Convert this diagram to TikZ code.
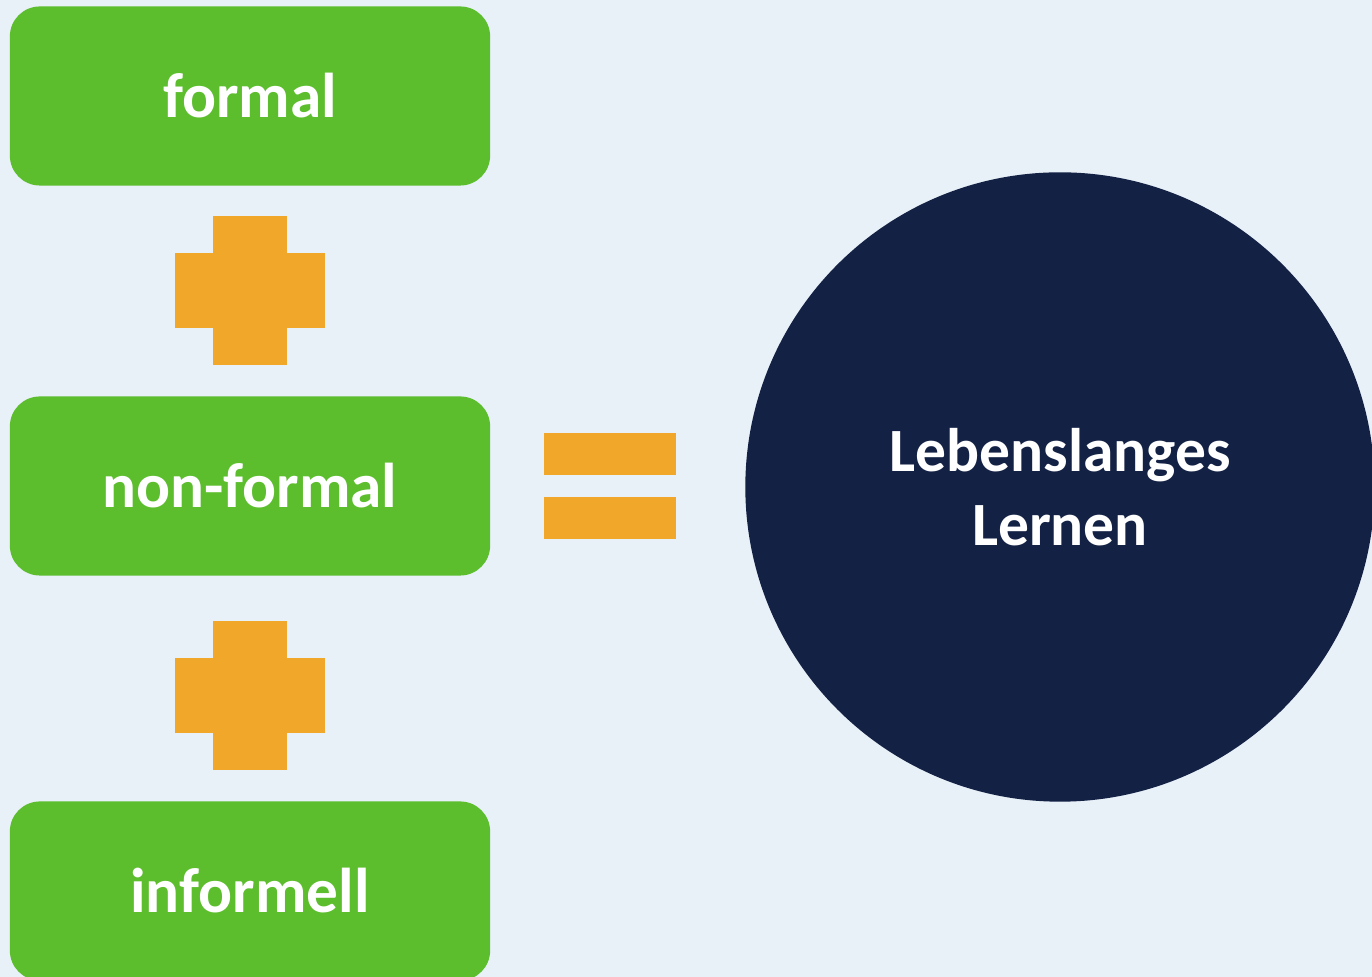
\documentclass[tikz,border=0pt]{standalone}
\usepackage{fontspec}
\setmainfont{Carlito}
\usepackage{tikz}

\definecolor{hintergrund}{HTML}{E8F0F8}
\definecolor{lerngruen}{HTML}{5CBD2D}
\definecolor{plusorange}{HTML}{F0A72A}
\definecolor{kreisblau}{HTML}{132144}

\begin{document}
\begin{tikzpicture}[x=0.01cm, y=-0.01cm,
    box/.style={fill=lerngruen, rounded corners=0.3cm, minimum width=4.8cm,
      minimum height=1.79cm, text=white, font=\bfseries\fontsize{18}{22}\selectfont},
    kreis/.style={circle, fill=kreisblau, minimum size=6.29cm, text=white, align=center,
      font=\bfseries\fontsize{17.5}{21}\selectfont}]
  \clip (0,0) rectangle (1372,977);
  \fill[hintergrund] (0,0) rectangle (1372,977);
  \node[box] (formal) at (250,96) {formal};
  \node[box] (nonformal) at (250,486) {non-formal};
  \node[box] (informell) at (250,891) {informell};
  % plus signs
  \foreach \y in {290.5,695.5} {
    \fill[plusorange] (213,\y-74.5) rectangle (287,\y+74.5);
    \fill[plusorange] (175,\y-37.5) rectangle (325,\y+37.5);
  }
  % equals sign
  \fill[plusorange] (544,433) rectangle (676,475);
  \fill[plusorange] (544,497) rectangle (676,539);
  \node[kreis] (lernen) at (1060,487) {Lebenslanges\\Lernen};
\end{tikzpicture}
\end{document}
